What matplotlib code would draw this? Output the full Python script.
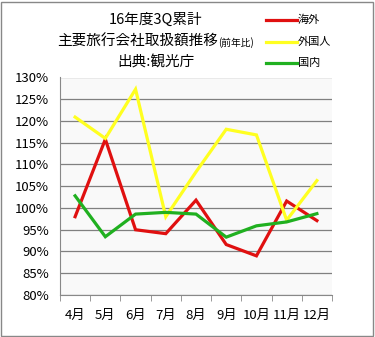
import matplotlib.pyplot as plt
from matplotlib.lines import Line2D
from matplotlib.patches import Rectangle

plt.rcParams['font.family'] = ['Noto Sans CJK JP', 'DejaVu Sans']

months = ["4月", "5月", "6月", "7月", "8月", "9月", "10月", "11月", "12月"]
overseas = [98.0, 115.8, 95.0, 94.1, 101.8, 91.6, 89.0, 101.6, 97.1]
foreign = [120.9, 116.0, 127.3, 98.0, 108.3, 118.1, 116.8, 97.2, 106.3]
domestic = [102.8, 93.4, 98.6, 99.0, 98.6, 93.3, 95.9, 96.8, 98.7]

series = [("海外", overseas, "#e01010"), ("外国人", foreign, "#ffff20"), ("国内", domestic, "#20b020")]

W, H = 375, 337
fig = plt.figure(figsize=(W / 100, H / 100), dpi=100)
fig.patches.append(Rectangle((1 / W, 1 / H), 1 - 3 / W, 1 - 3 / H, transform=fig.transFigure,
                             fill=False, edgecolor="#888888", lw=1))

ax = fig.add_axes([60 / W, 1 - 295 / H, 272 / W, 217.5 / H])
ax.set_facecolor("#f9f9f9")
x = list(range(len(months)))
for name, vals, col in series:
    ax.plot(x, vals, color=col, lw=2.3, solid_joinstyle="miter")

ax.set_xlim(-0.5, len(months) - 0.5)
ax.set_ylim(80, 130)
ax.set_yticks(range(80, 131, 5))
ax.set_yticklabels([f"{v}%" for v in range(80, 131, 5)], fontsize=9.5)
ax.set_xticks(x)
ax.set_xticklabels(months, fontsize=9.5)
ax.tick_params(axis="x", length=0, pad=10)
ax.tick_params(axis="y", length=0, pad=8)
ax.set_xticks([i - 0.5 for i in range(len(months) + 1)], minor=True)
ax.tick_params(axis="x", which="minor", length=4, color="#888888")
ax.grid(axis="y", color="#808080", lw=0.9)
ax.set_axisbelow(True)
for s in ["top", "right"]:
    ax.spines[s].set_visible(False)
for s in ["left", "bottom"]:
    ax.spines[s].set_color("#888888")

# title
fig.text(156 / W, 1 - 20 / H, "16年度3Q累計", ha="center", va="center", fontsize=10.5)
fig.text(218 / W, 1 - 42 / H, "主要旅行会社取扱額推移", ha="right", va="center", fontsize=10.5)
fig.text(218 / W, 1 - 43 / H, "(前年比)", ha="left", va="center", fontsize=7)
fig.text(156 / W, 1 - 63 / H, "出典:観光庁", ha="center", va="center", fontsize=10.5)

# legend
for i, (name, vals, col) in enumerate(series):
    yy = 1 - (20 + i * 21.5) / H
    fig.lines.append(Line2D([266 / W, 297 / W], [yy, yy], transform=fig.transFigure, color=col, lw=2.3))
    fig.text(298 / W, yy, name, ha="left", va="center", fontsize=8)

fig.savefig("out.png", dpi=100)
